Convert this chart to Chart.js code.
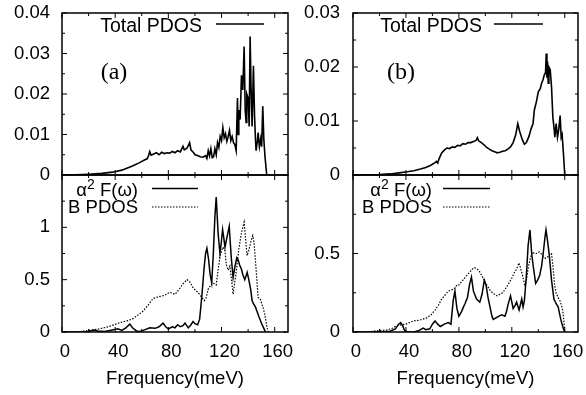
<!DOCTYPE html>
<html>
<head>
<meta charset="utf-8">
<script src="https://cdn.jsdelivr.net/npm/chart.js@4"></script>
<style>
  html, body { margin: 0; padding: 0; background: #fff; }
  #wrap { position: relative; width: 586px; height: 395px; overflow: hidden; }
  canvas { position: absolute; }
</style>
</head>
<body>
<div id="wrap">
  <canvas id="tl" width="300" height="185" style="left:0;top:0"></canvas>
  <canvas id="tr" width="296" height="185" style="left:290px;top:0"></canvas>
  <canvas id="bl" width="300" height="225" style="left:0;top:170px"></canvas>
  <canvas id="br" width="296" height="225" style="left:290px;top:170px"></canvas>
</div>
<script>
// Panel (a): total PDOS
const freqTotalA = [0, 10, 20, 30, 38, 45, 53, 58, 62, 64, 65, 66, 67, 69, 71, 73, 75, 77, 79, 81, 83, 85, 87, 89, 91, 92, 94, 96, 97, 99, 100, 102, 104, 106, 108, 109, 110, 111, 112, 113, 114, 115, 116, 117, 118, 119, 120, 121, 122, 123, 124, 125, 126, 127, 128, 129, 130, 131, 132, 132.5, 133, 134, 135, 136, 137, 137.8, 138.5, 139, 140, 140.8, 141.5, 142.3, 143, 144, 144.8, 145.5, 146, 147, 147.5, 148.5, 149.5, 150.2, 151, 151.8, 152.7, 154];
const pdosTotalA = [0, 0.00005, 0.0002, 0.0004, 0.0007, 0.0012, 0.0022, 0.003, 0.0037, 0.004, 0.0047, 0.0058, 0.0049, 0.0052, 0.0055, 0.005, 0.0056, 0.0053, 0.0055, 0.0054, 0.0058, 0.0055, 0.006, 0.0057, 0.0071, 0.0062, 0.0066, 0.008, 0.0062, 0.0055, 0.005, 0.0048, 0.0045, 0.0044, 0.0048, 0.0041, 0.006, 0.0047, 0.0065, 0.0043, 0.0045, 0.0065, 0.005, 0.008, 0.0068, 0.0095, 0.0085, 0.0117, 0.0092, 0.0102, 0.0083, 0.0095, 0.011, 0.0085, 0.0095, 0.008, 0.0075, 0.006, 0.019, 0.01, 0.016, 0.0137, 0.0246, 0.021, 0.0317, 0.016, 0.013, 0.02, 0.019, 0.012, 0.0342, 0.02, 0.012, 0.027, 0.015, 0.009, 0.006, 0.0085, 0.0105, 0.007, 0.009, 0.007, 0.017, 0.009, 0.0045, 0];

// Panel (b): total PDOS
const freqTotalB = [0, 10, 20, 28, 35, 41, 46, 51, 55, 58, 60, 62, 63, 64, 65, 67, 69, 71, 73, 75, 77, 79, 81, 83, 85, 87, 89, 91, 93, 94, 95, 97, 99, 101, 103, 105, 107, 109, 111, 113, 115, 117, 119, 121, 123, 124.5, 126, 128, 129.5, 131, 133, 134.5, 136, 137, 138.5, 140, 141.5, 142.5, 143.5, 144.5, 145.5, 146, 146.5, 147, 147.5, 148, 149, 150, 151, 152, 152.5, 153.5, 154.5, 155.5, 156.5, 157.3, 158, 159, 160];
const pdosTotalB = [0, 0.00003, 0.0001, 0.0002, 0.0004, 0.0006, 0.0008, 0.0011, 0.0014, 0.0017, 0.002, 0.0023, 0.0025, 0.0022, 0.003, 0.0041, 0.0046, 0.005, 0.0049, 0.0052, 0.0051, 0.0055, 0.0054, 0.0058, 0.0057, 0.006, 0.006, 0.0062, 0.0064, 0.0069, 0.0063, 0.006, 0.0056, 0.0051, 0.0048, 0.0045, 0.0043, 0.0041, 0.0042, 0.0044, 0.0045, 0.0048, 0.0052, 0.006, 0.0075, 0.0095, 0.008, 0.0065, 0.0057, 0.006, 0.0072, 0.0085, 0.0095, 0.012, 0.0135, 0.0154, 0.016, 0.017, 0.0176, 0.0185, 0.019, 0.0225, 0.018, 0.021, 0.017, 0.02, 0.0195, 0.0163, 0.0107, 0.0085, 0.007, 0.0095, 0.007, 0.0085, 0.011, 0.007, 0.0075, 0.004, 0];

// Panel (a): alpha^2 F and boron PDOS
const freqEliashA = [0, 15, 20, 24, 27, 32, 38, 42, 45, 48, 51, 53, 56, 59, 62, 66, 70, 73, 76, 78, 80, 83, 85, 87, 89, 91, 92.5, 95, 97, 98.6, 100, 102, 103.5, 104.5, 105.7, 106.8, 108, 109, 110.2, 111.4, 112.6, 113.8, 115, 116, 117.4, 118.8, 119.8, 120.8, 121.7, 122.6, 124, 125.8, 126.6, 127.4, 128.7, 130, 131.5, 132.5, 133.6, 135, 136, 137.5, 139.3, 140.5, 142, 143, 144, 145.5, 146.6, 148, 150.5, 152, 153];
const eliashA = [0, 0, 0.005, 0.02, 0.01, 0.005, 0.02, 0.03, 0.015, 0.04, 0.075, 0.04, 0.01, 0.005, 0.02, 0.04, 0.035, 0.05, 0.085, 0.05, 0.03, 0.05, 0.04, 0.07, 0.05, 0.06, 0.085, 0.04, 0.07, 0.1, 0.08, 0.07, 0.12, 0.25, 0.42, 0.6, 0.75, 0.8, 0.7, 0.55, 0.47, 0.74, 1.1, 1.29, 0.95, 0.75, 0.85, 0.98, 0.9, 0.81, 0.9, 1.01, 0.85, 0.7, 0.52, 0.62, 0.71, 0.69, 0.64, 0.6, 0.55, 0.5, 0.57, 0.5, 0.4, 0.3, 0.27, 0.24, 0.2, 0.15, 0.07, 0.03, 0];
const freqBoronA = [0, 10, 14, 20, 28, 35, 43.6, 50, 53.6, 57, 61, 65, 68.5, 71, 73.7, 77, 81, 85, 88.8, 91, 94, 96, 98.7, 102, 104, 107, 108.5, 110, 112, 113.7, 116, 117.5, 119, 121, 122.6, 123.5, 125, 126.3, 127.5, 128.7, 130.7, 133, 135, 137, 138, 139.2, 140.5, 142, 143.5, 144.5, 146, 147.5, 149, 150.3, 151.5, 152.7, 154, 155];
const boronA = [0, 0, 0.005, 0.015, 0.03, 0.05, 0.09, 0.11, 0.13, 0.16, 0.2, 0.26, 0.32, 0.33, 0.34, 0.35, 0.38, 0.36, 0.42, 0.46, 0.5, 0.48, 0.42, 0.38, 0.35, 0.3, 0.33, 0.41, 0.45, 0.47, 0.45, 0.6, 0.73, 0.81, 0.78, 0.65, 0.59, 0.63, 0.5, 0.36, 0.54, 0.79, 0.95, 1.05, 0.9, 0.73, 0.78, 0.86, 0.92, 0.85, 0.6, 0.33, 0.32, 0.27, 0.22, 0.16, 0.06, 0];

// Panel (b): alpha^2 F and boron PDOS
const freqEliashB = [0, 20, 28, 32, 34.5, 36, 37.5, 39, 41, 46, 50, 53, 55, 58, 60, 62, 64, 66, 69, 72, 74, 75.7, 77, 78.5, 80, 82, 83.5, 84.6, 86.5, 88, 89.5, 91, 93.3, 95.8, 97.5, 99.2, 100.5, 102, 103.5, 105, 106, 108, 110, 112.3, 114.8, 116, 117, 119, 120, 121, 122.5, 123.6, 125.5, 127.5, 128.5, 129.5, 131, 132.3, 133.7, 135, 136, 138, 139.5, 141, 142.5, 143.7, 145, 145.8, 147, 148.3, 150, 151.8, 153.5, 155, 156.5, 157.6, 159, 160];
const eliashB = [0, 0, 0.005, 0.02, 0.05, 0.06, 0.04, 0.01, 0, 0, 0.01, 0.025, 0.015, 0.02, 0.05, 0.07, 0.05, 0.035, 0.05, 0.06, 0.05, 0.2, 0.26, 0.15, 0.1, 0.13, 0.16, 0.18, 0.22, 0.3, 0.35, 0.26, 0.21, 0.19, 0.24, 0.33, 0.3, 0.22, 0.16, 0.1, 0.08, 0.09, 0.1, 0.11, 0.1, 0.13, 0.17, 0.23, 0.19, 0.15, 0.17, 0.19, 0.14, 0.21, 0.16, 0.2, 0.36, 0.55, 0.65, 0.5, 0.43, 0.31, 0.33, 0.36, 0.42, 0.5, 0.6, 0.65, 0.58, 0.49, 0.33, 0.21, 0.18, 0.16, 0.1, 0.06, 0.02, 0];
const freqBoronB = [0, 10.5, 20, 25.6, 30, 33, 36, 40, 45.4, 50, 55.7, 59, 62, 64.5, 67, 70, 72, 75, 77, 78.6, 80, 82, 85, 87, 90, 92, 94, 96, 98.5, 101, 104, 107, 109, 111, 113, 114.8, 117, 119.8, 122, 123.6, 125.4, 126.5, 128.1, 130, 131, 132.4, 134, 135.7, 137, 138.7, 140.7, 142, 143.7, 145.5, 147.5, 149, 150, 151.3, 152.3, 153.4, 155, 156.3, 157.5, 158.4, 159.3, 160];
const boronB = [0, 0, 0.01, 0.012, 0.025, 0.04, 0.045, 0.05, 0.07, 0.075, 0.09, 0.11, 0.14, 0.17, 0.21, 0.24, 0.26, 0.27, 0.28, 0.3, 0.3, 0.32, 0.35, 0.37, 0.4, 0.41, 0.4, 0.38, 0.34, 0.3, 0.26, 0.24, 0.23, 0.24, 0.25, 0.27, 0.3, 0.34, 0.38, 0.4, 0.44, 0.41, 0.36, 0.29, 0.33, 0.41, 0.47, 0.51, 0.5, 0.5, 0.51, 0.5, 0.48, 0.47, 0.48, 0.5, 0.5, 0.4, 0.3, 0.25, 0.22, 0.2, 0.17, 0.14, 0.07, 0];

// Axis ticks
const xTicks = [0, 40, 80, 120, 160];
const xMinor = [20, 60, 100, 140];
const yTicksTotalA = [0, 0.01, 0.02, 0.03, 0.04];
const yTicksTotalB = [0, 0.01, 0.02, 0.03];
const yTicksEliashA = [0, 0.5, 1];
const yTicksEliashB = [0, 0.5];

const FONT = '"Liberation Sans", Arial, Helvetica, sans-serif';
const fnt = { family: FONT, size: 18.5 };
const frameOpts = {};

function zip(xs, ys) {
  return xs.map((x, i) => ({ x: x, y: ys[i] }));
}

// gnuplot-like frame: border, inward ticks on all sides, key and panel label
const frame = {
  id: 'frame',
  afterDraw(chart) {
    const o = frameOpts[chart.canvas.id];
    if (!o) return;
    const { ctx, chartArea: a } = chart;
    const x = chart.scales.x, y = chart.scales.y;
    ctx.save();
    ctx.setLineDash([]);
    ctx.strokeStyle = '#000';
    ctx.fillStyle = '#000';
    ctx.lineWidth = 1;
    ctx.beginPath();
    const tick = (px, len) => {
      ctx.moveTo(px, a.bottom); ctx.lineTo(px, a.bottom - len);
      ctx.moveTo(px, a.top); ctx.lineTo(px, a.top + len);
    };
    xTicks.forEach(v => tick(x.getPixelForValue(v), 5));
    xMinor.forEach(v => tick(x.getPixelForValue(v), 3));
    const ytick = (py, len) => {
      ctx.moveTo(a.left, py); ctx.lineTo(a.left + len, py);
      ctx.moveTo(a.right, py); ctx.lineTo(a.right - len, py);
    };
    o.yMajor.forEach(v => ytick(y.getPixelForValue(v), 5));
    o.yMinor.forEach(v => ytick(y.getPixelForValue(v), 3));
    ctx.stroke();

    ctx.lineWidth = 1.5;
    ctx.beginPath();
    ctx.rect(a.left, a.top, a.right - a.left, a.bottom - a.top);
    ctx.stroke();

    const ox = o.offX, oy = o.offY;
    ctx.textBaseline = 'alphabetic';
    const sample = (x1, x2, yy, dash, w) => {
      ctx.beginPath();
      ctx.setLineDash(dash);
      ctx.lineWidth = w;
      ctx.moveTo(x1 - ox, yy - oy);
      ctx.lineTo(x2 - ox, yy - oy);
      ctx.stroke();
      ctx.setLineDash([]);
    };
    if (o.kind === 'total') {
      ctx.font = '19.5px ' + FONT;
      ctx.textAlign = 'right';
      ctx.fillText('Total PDOS', o.keyRight - ox, 31.5 - oy);
      sample(o.lineX1, o.lineX2, 24, [], 1.5);
      ctx.font = '24px "Liberation Serif", "Times New Roman", serif';
      ctx.textAlign = 'center';
      ctx.textBaseline = 'middle';
      ctx.fillText(o.label, o.labelX - ox, 73 - oy);
    } else {
      ctx.textAlign = 'left';
      ctx.font = '18.5px ' + FONT;
      const w1 = ctx.measureText('\u03b1').width;
      const w3 = ctx.measureText(' F(\u03c9)').width;
      ctx.font = '14px ' + FONT;
      const w2 = ctx.measureText('2').width;
      const sx = o.keyRight - (w1 + w2 + w3) - ox;
      ctx.font = '18.5px ' + FONT;
      ctx.fillText('\u03b1', sx, 196 - oy);
      ctx.font = '14px ' + FONT;
      ctx.fillText('2', sx + w1, 189 - oy);
      ctx.font = '18.5px ' + FONT;
      ctx.fillText(' F(\u03c9)', sx + w1 + w2, 196 - oy);
      ctx.textAlign = 'right';
      ctx.fillText('B PDOS', o.keyRight - ox, 212.5 - oy);
      sample(o.lineX1, o.lineX2, 188.5, [], 1.5);
      sample(o.lineX1, o.lineX2, 207, [1.5, 1.5], 1.2);
    }
    ctx.restore();
  }
};

function makePanel(id, p) {
  frameOpts[id] = p.frame;
  new Chart(document.getElementById(id), {
    type: 'line',
    data: {
      datasets: p.series.map(s => ({
        data: s.data,
        borderColor: '#000',
        borderWidth: s.width,
        borderDash: s.dash || [],
        pointRadius: 0,
        pointBorderWidth: 0,
        tension: 0,
        fill: false
      }))
    },
    options: {
      responsive: false,
      animation: false,
      devicePixelRatio: 1,
      layout: { padding: p.pad, autoPadding: false },
      plugins: {
        legend: { display: false },
        tooltip: { enabled: false }
      },
      scales: {
        x: {
          type: 'linear', min: 0, max: 170,
          display: p.showX,
          afterBuildTicks: s => { s.ticks = xTicks.map(v => ({ value: v })); },
          afterFit: s => { s.height = p.showX ? 60 : 0; s.paddingLeft = 0; s.paddingRight = 0; },
          grid: { display: false, drawTicks: false },
          border: { display: false },
          ticks: { font: fnt, color: '#000', padding: 9, labelOffset: 3, maxRotation: 0, autoSkip: false },
          title: { display: true, text: 'Frequency(meV)', font: fnt, color: '#000', padding: { top: 0, bottom: 2 } }
        },
        y: {
          type: 'linear', min: 0, max: p.ymax,
          afterBuildTicks: s => { s.ticks = p.yTicks.map(v => ({ value: v })); },
          afterFit: s => { s.width = p.yw; s.paddingTop = 0; s.paddingBottom = 0; },
          grid: { display: false, drawTicks: false },
          border: { display: false },
          ticks: { font: fnt, color: '#000', padding: p.ypad, autoSkip: false, callback: v => String(v) }
        }
      }
    },
    plugins: [frame]
  });
}

makePanel('tl', {
  series: [{ data: zip(freqTotalA, pdosTotalA), width: 1.6 }],
  pad: { left: 0, top: 13, right: 12, bottom: 10 },
  showX: false, ymax: 0.04, yTicks: yTicksTotalA, yw: 62, ypad: 12,
  frame: { kind: 'total', offX: 0, offY: 0, yMajor: yTicksTotalA, yMinor: [0.005, 0.015, 0.025, 0.035],
    keyRight: 202, lineX1: 216, lineX2: 264, label: '(a)', labelX: 114 }
});

makePanel('tr', {
  series: [{ data: zip(freqTotalB, pdosTotalB), width: 1.6 }],
  pad: { left: 0, top: 13, right: 8, bottom: 10 },
  showX: false, ymax: 0.03, yTicks: yTicksTotalB, yw: 63, ypad: 13,
  frame: { kind: 'total', offX: 290, offY: 0, yMajor: yTicksTotalB, yMinor: [0.005, 0.015, 0.025],
    keyRight: 482, lineX1: 494, lineX2: 543, label: '(b)', labelX: 401 }
});

makePanel('bl', {
  series: [
    { data: zip(freqEliashA, eliashA), width: 1.5 },
    { data: zip(freqBoronA, boronA), width: 1.2, dash: [1.5, 1.5] }
  ],
  pad: { left: 0, top: 5, right: 12, bottom: 3 },
  showX: true, ymax: 1.5, yTicks: yTicksEliashA, yw: 62, ypad: 12,
  frame: { kind: 'eliash', offX: 0, offY: 170, yMajor: yTicksEliashA, yMinor: [0.25, 0.75, 1.25],
    keyRight: 138, lineX1: 152, lineX2: 198 }
});

makePanel('br', {
  series: [
    { data: zip(freqEliashB, eliashB), width: 1.5 },
    { data: zip(freqBoronB, boronB), width: 1.2, dash: [1.5, 1.5] }
  ],
  pad: { left: 0, top: 5, right: 8, bottom: 3 },
  showX: true, ymax: 1.0, yTicks: yTicksEliashB, yw: 63, ypad: 13,
  frame: { kind: 'eliash', offX: 290, offY: 170, yMajor: yTicksEliashB, yMinor: [0.25, 0.75],
    keyRight: 432, lineX1: 443, lineX2: 490 }
});
</script>
</body>
</html>
